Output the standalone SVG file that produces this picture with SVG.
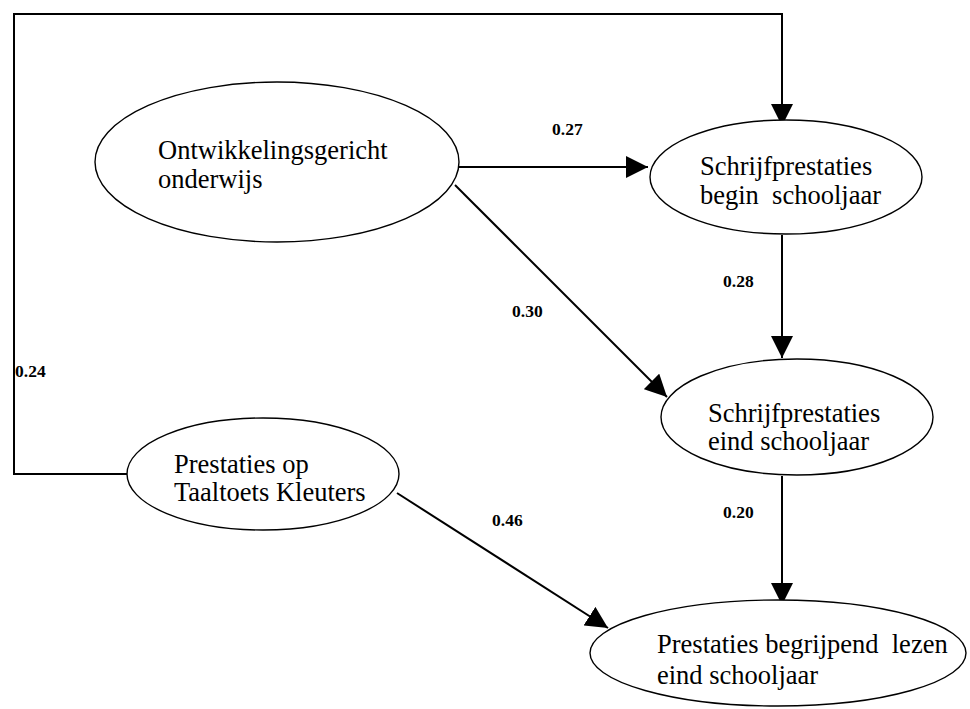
<svg xmlns="http://www.w3.org/2000/svg" width="970" height="709" viewBox="0 0 970 709">
  <style>
    .node ellipse { fill: #ffffff; stroke: #000000; stroke-width: 1.4; }
    .node text { font-family: "Liberation Serif", "Times New Roman", serif; font-size: 26.5px; fill: #000000; }
    .edge { fill: none; stroke: #000000; stroke-width: 2; }
    .lbl { font-family: "Liberation Serif", "Times New Roman", serif; font-size: 17.5px; font-weight: bold; fill: #000000; }
  </style>
  <defs>
    <marker id="arrow" markerUnits="userSpaceOnUse" markerWidth="22" markerHeight="22" viewBox="0 0 20 20" refX="20" refY="10" orient="auto">
      <path d="M0,0 L20,10 L0,20 Z" fill="#000000"/>
    </marker>
  </defs>
  <rect width="970" height="709" fill="#ffffff"/>

  <g id="connectors">
    <path class="edge" d="M128,474 H14 V14 H782 V126" marker-end="url(#arrow)"/>
    <path class="edge" d="M458,167 H648" marker-end="url(#arrow)"/>
    <path class="edge" d="M455,185 L667,397" marker-end="url(#arrow)"/>
    <path class="edge" d="M782,235 V358" marker-end="url(#arrow)"/>
    <path class="edge" d="M782,476 V605" marker-end="url(#arrow)"/>
    <path class="edge" d="M397,493 L608,628" marker-end="url(#arrow)"/>
  </g>

  <g id="node-ontwikkelingsgericht" class="node">
    <ellipse cx="277" cy="162" rx="182" ry="80"/>
    <text x="158" y="159">Ontwikkelingsgericht</text>
    <text x="158" y="188">onderwijs</text>
  </g>

  <g id="node-schrijf-begin" class="node">
    <ellipse cx="786" cy="177" rx="136" ry="57"/>
    <text x="700" y="175">Schrijfprestaties</text>
    <text x="700" y="204" xml:space="preserve">begin  schooljaar</text>
  </g>

  <g id="node-schrijf-eind" class="node">
    <ellipse cx="797" cy="417" rx="136" ry="58"/>
    <text x="708" y="422">Schrijfprestaties</text>
    <text x="708" y="450">eind schooljaar</text>
  </g>

  <g id="node-taaltoets" class="node">
    <ellipse cx="263" cy="474" rx="136" ry="56"/>
    <text x="174" y="473">Prestaties op</text>
    <text x="174" y="501">Taaltoets Kleuters</text>
  </g>

  <g id="node-begrijpend-lezen" class="node">
    <ellipse cx="778" cy="653" rx="188" ry="53"/>
    <text x="657" y="653" xml:space="preserve">Prestaties begrijpend  lezen</text>
    <text x="657" y="684">eind schooljaar</text>
  </g>

  <g id="labels">
    <text class="lbl" x="552" y="135">0.27</text>
    <text class="lbl" x="512" y="317">0.30</text>
    <text class="lbl" x="723" y="287">0.28</text>
    <text class="lbl" x="15" y="377">0.24</text>
    <text class="lbl" x="723" y="518">0.20</text>
    <text class="lbl" x="492" y="526">0.46</text>
  </g>
</svg>
